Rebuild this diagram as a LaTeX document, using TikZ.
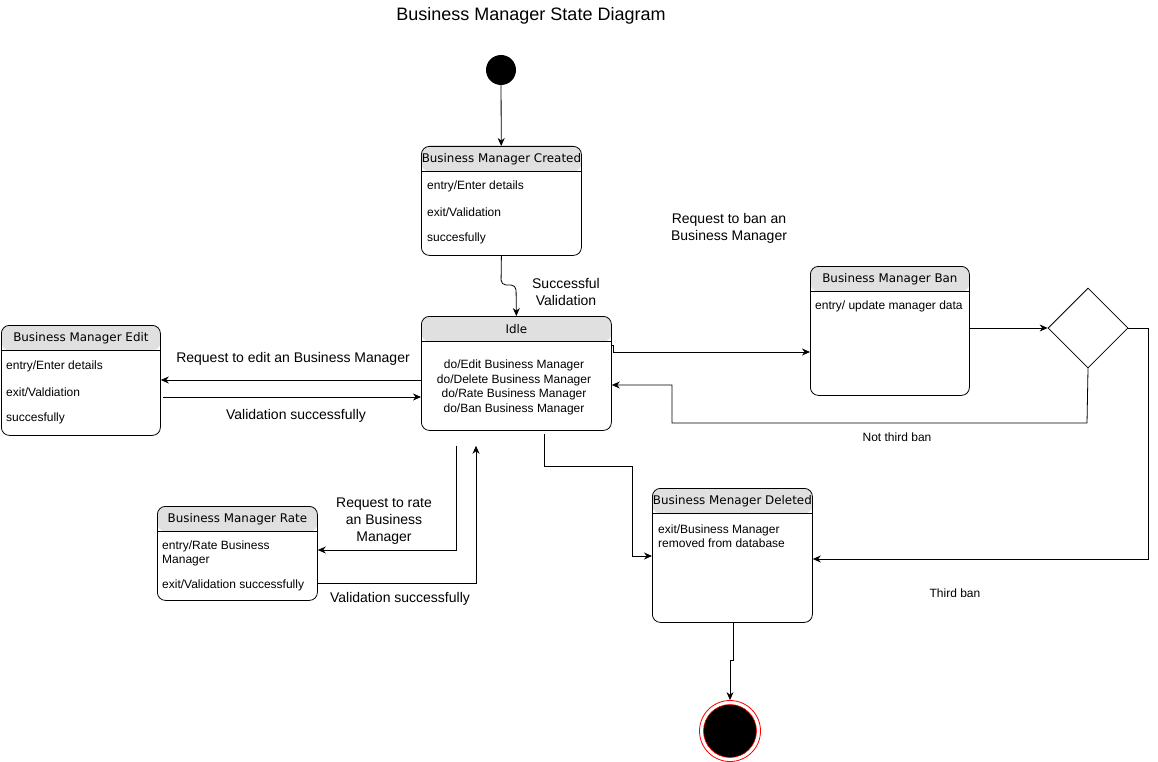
\documentclass[tikz,border=0pt]{standalone}
\usepackage{fontspec}
\setmainfont{Liberation Sans}
\newfontfamily\hdrfont{DejaVu Sans}
\usetikzlibrary{arrows.meta,positioning,calc,shapes.geometric}

\definecolor{hdrgray}{RGB}{224,224,224}

\tikzset{
  state/.style={draw, rounded corners=8pt, anchor=north west, inner sep=0pt, line width=0.8pt,
    path picture={
      \fill[hdrgray] (path picture bounding box.north west) rectangle ([yshift=-25pt]path picture bounding box.north east);
      \draw[line width=0.8pt] ([yshift=-25pt]path picture bounding box.north west) -- ([yshift=-25pt]path picture bounding box.north east);
    }},
  hdr/.style={font=\hdrfont\fontsize{11.9}{14}\selectfont, inner sep=0pt},
  entry/.style={font=\fontsize{12}{14}\selectfont, anchor=west, inner sep=0pt, align=left},
  lbl/.style={font=\fontsize{14}{17}\selectfont, align=center, inner sep=0pt},
  small/.style={font=\fontsize{12}{14}\selectfont, inner sep=0pt},
  arr/.style={-{Stealth[length=8pt,width=7pt]}, line width=0.8pt},
}

\begin{document}
\begin{tikzpicture}[x=1pt, y=-1pt]
    \useasboundingbox (0,0) rectangle (1158,762);

    \node (title) at (531,16) [font=\fontsize{18}{21}\selectfont] {Business Manager State Diagram};

    % start and end
    \node (init) at (501,70) [circle, fill=black, minimum size=30pt, inner sep=0pt] {};
    \node (final) at (730,731) [circle, draw=red, line width=0.8pt, minimum size=61pt, inner sep=0pt] {};
    \node (finaldot) at (final) [circle, draw=red, fill=black, line width=0.6pt, minimum size=53pt, inner sep=0pt] {};

    % states
    \node (created) at (421,146) [state, minimum width=160pt, minimum height=109pt] {};
    \node (idle) at (421,316) [state, minimum width=190pt, minimum height=114pt] {};
    \node (edit) at (1,325) [state, minimum width=159pt, minimum height=110pt] {};
    \node (ban) at (810,266) [state, minimum width=159pt, minimum height=129pt] {};
    \node (deleted) at (652,488) [state, minimum width=160pt, minimum height=134pt] {};
    \node (rate) at (157,506) [state, minimum width=160pt, minimum height=94pt] {};
    \node (choice) at (1088,328) [diamond, draw, line width=0.8pt, minimum width=80pt, minimum height=80pt, inner sep=0pt] {};

    % titles
    \node (createdT) at ([yshift=-13pt]created.north) [hdr] {Business Manager Created};
    \node (idleT) at ([yshift=-13pt]idle.north) [hdr] {Idle};
    \node (editT) at ([yshift=-13pt]edit.north) [hdr] {Business Manager Edit};
    \node (banT) at ([yshift=-13pt]ban.north) [hdr] {Business Manager Ban};
    \node (deletedT) at ([yshift=-13pt]deleted.north) [hdr] {Business Menager Deleted};
    \node (rateT) at ([yshift=-13pt]rate.north) [hdr] {Business Manager Rate};

    % contents
    \node (createdA) at (427,186) [entry] {entry/Enter details};
    \node (createdB) at (427,212) [entry] {exit/Validation};
    \node (createdC) at (427,238) [entry] {succesfully};
    \node (idleA) at (514,387.5) [font=\fontsize{12}{14.5}\selectfont, align=center, inner sep=0pt] {do/Edit Business Manager\\do/Delete Business Manager\\do/Rate Business Manager\\do/Ban Business Manager};
    \node (editA) at (6,366) [entry] {entry/Enter details};
    \node (editB) at (6,392) [entry] {exit/Valdiation};
    \node (editC) at (6,418) [entry] {succesfully};
    \node (banA) at (815,306) [entry] {entry/ update manager data};
    \node (deletedA) at (658,536) [entry] {exit/Business Manager\\removed from database};
    \node (rateA) at (162,553) [entry] {entry/Rate Business\\Manager};
    \node (rateB) at (162,585) [entry] {exit/Validation successfully};

    % transitions
    \draw[arr] (init) -- (created);
    \draw[arr, rounded corners=5pt] (created.south) -- (501,285) -- (516,285) -- (idle.north);
    \draw[arr] (idle.west |- 0,380) -- (edit.east |- 0,380);
    \draw[arr] (163,397) -- (idle.west |- 0,397);
    \draw[arr] (idle.east |- 0,345) -| (613,352) -- (ban.west |- 0,352);
    \draw[arr] (ban.east |- choice) -- (choice.west);
    \draw[arr] (choice.south) -- (1087,423) -- (672,423) -- (672,385) -- (idle.east |- 0,385);
    \draw[arr] (choice.east) -- (1148,328) -- (1148,559) -- (deleted.east |- 0,559);
    \draw[arr] ($(idle.south -| 544,0)+(0,3)$) -- (544,466) -- (632,466) -- (632,556) -- (deleted.west |- 0,556);
    \draw[arr] ($(idle.south -| 456,0)+(0,15)$) -- (456,550) -- (rate.east |- 0,550);
    \draw[arr] (rate.east |- 0,583) -| ($(idle.south -| 476,0)+(0,15)$);
    \draw[arr] (deleted.south -| 733,0) -- (733,660) -| (final.north);

    % labels
    \node (lblValid) at (566,291.5) [lbl] {Successful\\Validation};
    \node (lblEdit) at (293,358.5) [lbl] {Request to edit an Business Manager};
    \node (lblEditOk) at (296,415.5) [lbl] {Validation successfully};
    \node (lblBan) at (729,228.5) [lbl] {Request to ban an\\Business Manager};
    \node (lblRate) at (384,521.5) [lbl] {Request to rate\\an Business\\Manager};
    \node (lblRateOk) at (400,598.5) [lbl] {Validation successfully};
    \node (lblNot) at (897,437) [small] {Not third ban};
    \node (lblThird) at (955,593) [small] {Third ban};
\end{tikzpicture}
\end{document}
